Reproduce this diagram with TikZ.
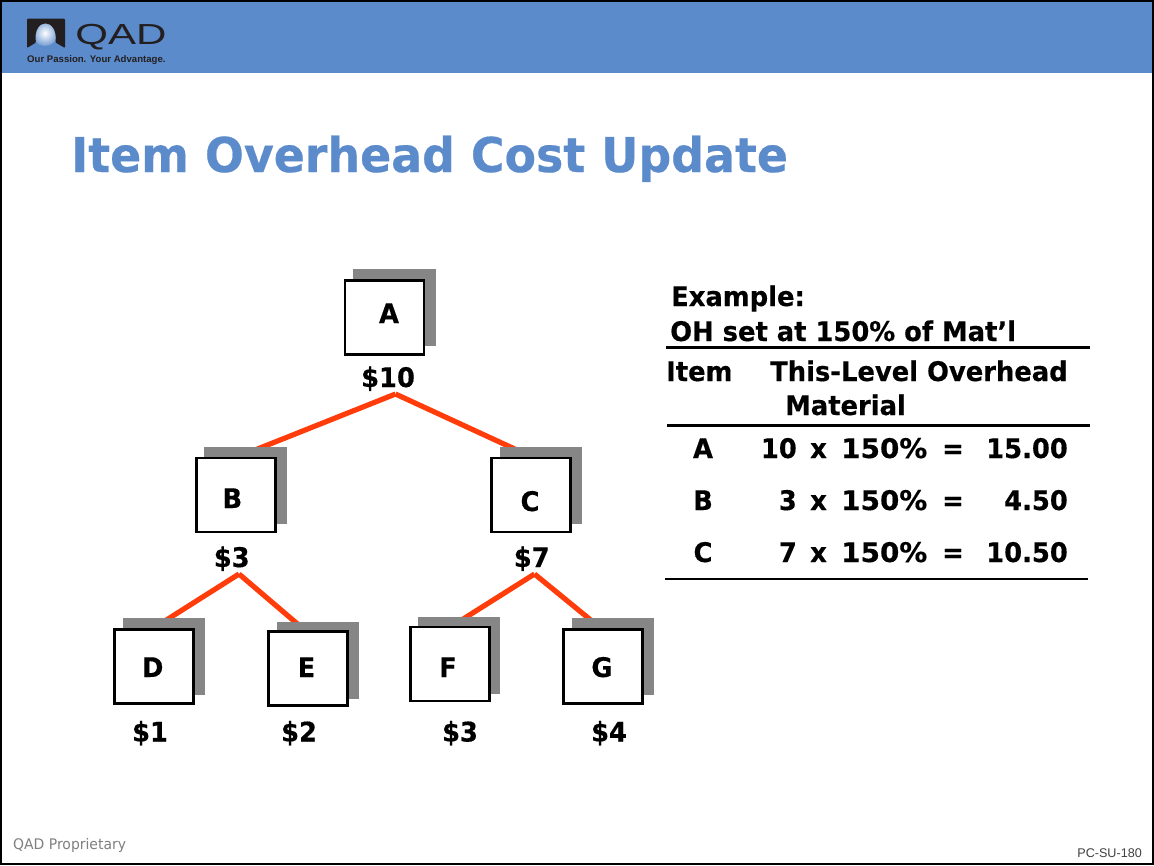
\documentclass[tikz,border=0pt]{standalone}
\usepackage{fontspec}
\setmainfont[FakeStretch=0.955,BoldFeatures={FakeBold=0.4}]{DejaVu Sans}
\newfontfamily\lib{Liberation Sans}
\usetikzlibrary{calc}
\pgfdeclarelayer{lines}
\pgfsetlayers{lines,main}
\definecolor{bandblue}{HTML}{5B8BCB}
\definecolor{titleblue}{HTML}{5B8BCB}
\definecolor{edgered}{HTML}{FF3C0A}
\definecolor{shadowgray}{HTML}{868686}
\definecolor{logodark}{HTML}{231F20}
\tikzset{
 x=1pt,y=-1pt,
 shadowbox/.style={fill=shadowgray,draw=none,inner sep=0pt,outer sep=0pt,minimum width=82.4pt,minimum height=77pt},
 itembox/.style={fill=white,draw=black,line width=2.6pt,inner sep=0pt,minimum width=79pt,minimum height=74pt},
 boxlabel/.style={font=\fontsize{27}{30}\selectfont\bfseries,inner sep=0pt,anchor=base},
 cost/.style={font=\fontsize{27}{30}\selectfont\bfseries,inner sep=0pt,anchor=base},
 tabletext/.style={font=\fontsize{27}{30}\selectfont\bfseries,inner sep=0pt,anchor=base west},
 tablenum/.style={font=\fontsize{27}{30}\selectfont\bfseries,inner sep=0pt,anchor=base east},
 edge/.style={draw=edgered,line width=5.2pt,line cap=butt},
 rulel/.style={draw=black,line width=2.8pt},
}
\begin{document}
\begin{tikzpicture}
\useasboundingbox (0,0) rectangle (1154,865);
\begin{pgfonlayer}{lines}
\fill[white] (0,0) rectangle (1154,865);
\end{pgfonlayer}
\fill[bandblue] (0,0) rectangle (1154,73);
\draw[black,line width=2.5pt] (1,1) rectangle (1153,864);
% logo
\begin{scope}
\clip (33,20) rectangle (59,48);
\shade[inner color=white,outer color=bandblue!85!white] (45,33) circle (13);
\end{scope}
\fill[logodark,rounded corners=1pt] (27,18.5) -- (65,18.5) -- (65,48) -- (55.5,42.5) .. controls (57,30) and (51,23.5) .. (45.5,23.5) .. controls (40,23.5) and (34,30) .. (36,42.5) -- (27,48) -- cycle;
\node[anchor=base west,inner sep=0pt,font=\lib\fontsize{29}{29}\selectfont,text=logodark,xscale=1.45] (logo) at (75,44) {QAD};
\node[anchor=base west,inner sep=0pt,font=\lib\bfseries\fontsize{9.6}{10}\selectfont,text=logodark] (tag) at (27,62) {Our Passion. Your Advantage.};
% title
\node[anchor=base west,inner sep=0pt,font=\fontsize{48}{52}\selectfont\bfseries,text=titleblue] (title) at (71,172) {Item Overhead Cost Update};
% shadows
\node[shadowbox] (As) at (394.5,307.8) {};
\node[shadowbox] (Bs) at (245.5,485.3) {};
\node[shadowbox] (Cs) at (541,485.3) {};
\node[shadowbox] (Ds) at (163.8,656.8) {};
\node[shadowbox] (Es) at (317.8,660) {};
\node[shadowbox] (Fs) at (458.8,655) {};
\node[shadowbox] (Gs) at (612.8,656.8) {};
% junctions
\coordinate (jA) at (395.5,394);
\coordinate (jB) at (239,574);
\coordinate (jC) at (534.5,574);
\begin{pgfonlayer}{lines}
\draw[edge] (jA) -- ($(Bs.north)+(7.5,4)$);
\draw[edge] (jA) -- ($(Cs.north)+(-22.4,4)$);
\draw[edge] (jB) -- ($(Ds.north)+(-1,4)$);
\draw[edge] (jB) -- ($(Es.north)+(-18.5,4)$);
\draw[edge] (jC) -- ($(Fs.north)+(2,4)$);
\draw[edge] (jC) -- ($(Gs.north)+(-19.3,4)$);
\end{pgfonlayer}
% boxes
\node[itembox] (A) at (384.5,317.3) {};
\node[itembox] (B) at (235.8,495) {};
\node[itembox] (C) at (531,495) {};
\node[itembox] (D) at (154,666.5) {};
\node[itembox] (E) at (308,668.5) {};
\node[itembox] (F) at (450,664) {};
\node[itembox] (G) at (603,666.5) {};
\node[boxlabel] (la) at (389,323) {A};
\node[boxlabel] (lb) at (232.3,508) {B};
\node[boxlabel] (lc) at (530,511) {C};
\node[boxlabel] (ld) at (152.7,677) {D};
\node[boxlabel] (le) at (306.5,677) {E};
\node[boxlabel] (lf) at (448,677) {F};
\node[boxlabel] (lg) at (602,677) {G};
\node[cost] (ca) at (388,387) {\$10};
\node[cost] (cb) at (231.7,567) {\$3};
\node[cost] (cc) at (531.7,567) {\$7};
\node[cost] (cd) at (150,741.5) {\$1};
\node[cost] (ce) at (299,741.5) {\$2};
\node[cost] (cf) at (460,741.5) {\$3};
\node[cost] (cg) at (609,741.5) {\$4};
% table
\node[tabletext] (ex) at (671,306) {Example:};
\node[tabletext] (oh) at (670,341) {OH set at 150\% of Mat’l};
\node[tabletext] (hi) at (666,381) {Item};
\node[tabletext] (ht) at (770,381) {This-Level Overhead};
\node[tabletext] (hm) at (785,415) {Material};
\coordinate (r1a) at (666,347.5); \coordinate (r1b) at (1090,347.5);
\coordinate (r2a) at (667,425.5); \coordinate (r2b) at (1090,425.5);
\coordinate (r3a) at (665,579); \coordinate (r3b) at (1088,579);
\draw[rulel] (r1a) -- (r1b);
\draw[rulel] (r2a) -- (r2b);
\draw[rulel] (r3a) -- (r3b);
\foreach \rowname/\q/\amt/\y in {A/10/15.00/458,B/3/4.50/510,C/7/10.50/562}{
 \node[tabletext,anchor=base] at (703,\y) {\rowname};
 \node[tablenum] at (797,\y) {\q};
 \node[tabletext] at (810,\y) {x};
 \node[tabletext,xscale=1.08] at (841,\y) {150\%};
 \node[tabletext] at (942,\y) {=};
 \node[tablenum] at (1068,\y) {\amt};
}
% footer
\node[anchor=base west,inner sep=0pt,font=\fontsize{14.6}{16}\selectfont,text=black!50] (prop) at (13,849) {QAD Proprietary};
\node[anchor=base east,inner sep=0pt,font=\lib\fontsize{12.6}{14}\selectfont,text=black!75] (code) at (1142,857) {PC-SU-180};
\end{tikzpicture}
\end{document}
